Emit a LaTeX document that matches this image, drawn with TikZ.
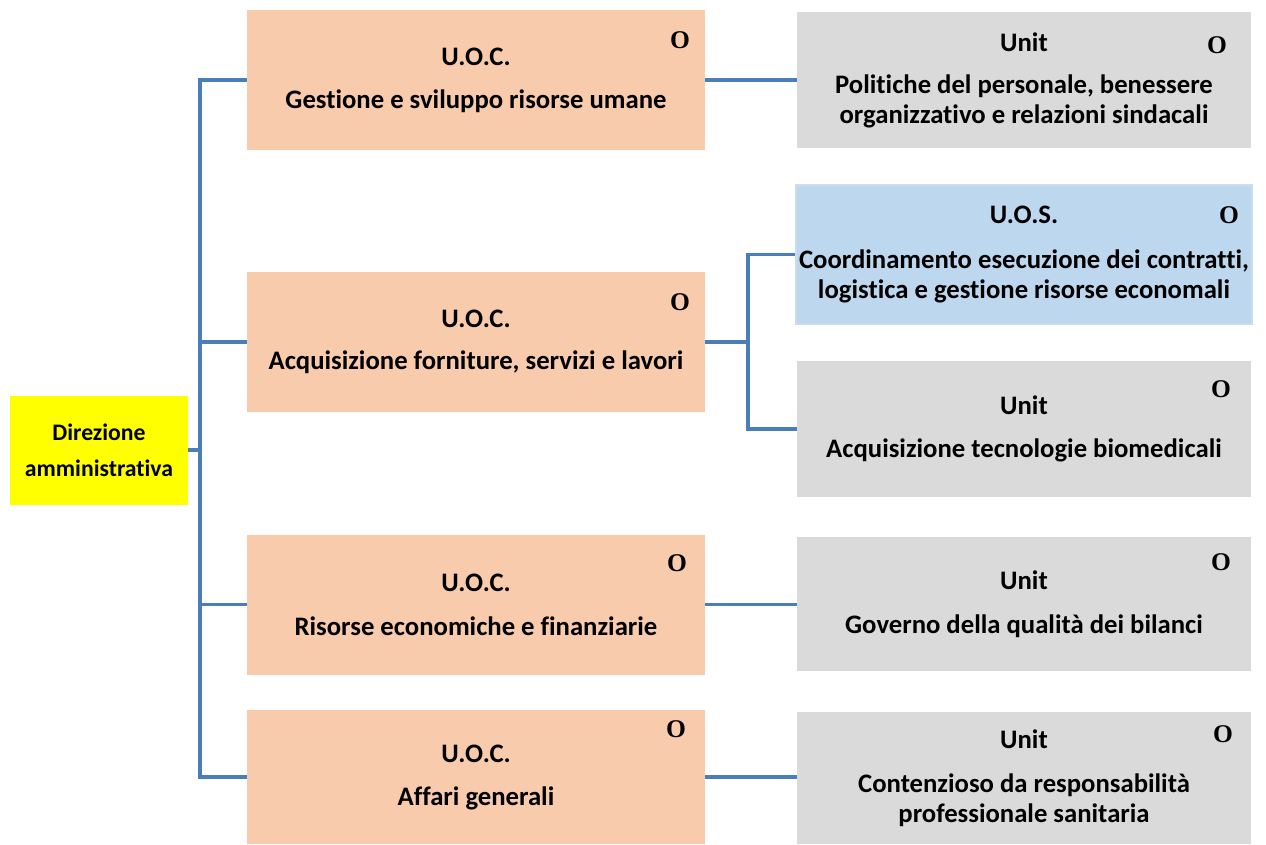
\documentclass[tikz,border=0pt]{standalone}
\usepackage{fontspec}
\setmainfont{Carlito}[Ligatures={NoCommon}]
\newfontfamily\markfont{Liberation Serif}
\definecolor{peach}{RGB}{248,203,173}
\definecolor{headyellow}{RGB}{255,255,0}
\definecolor{unitgrey}{RGB}{218,218,218}
\definecolor{uosblue}{RGB}{189,215,238}
\definecolor{uosedge}{RGB}{205,220,236}
\definecolor{linkblue}{RGB}{74,126,187}
\begin{document}
\begin{tikzpicture}[x=1pt,y=-1pt,
  box/.style={rectangle,inner sep=0pt,align=center,
    font=\fontsize{26.7}{30}\selectfont\bfseries,text=black},
  dirbox/.style={box,fill=headyellow,minimum width=178pt,minimum height=109pt,
    font=\fontsize{23.7}{36}\selectfont\bfseries},
  uocbox/.style={box,fill=peach,minimum width=458pt,minimum height=140pt},
  unitbox/.style={box,fill=unitgrey,minimum width=454pt,minimum height=136pt},
  uosbox/.style={box,fill=uosblue,draw=uosedge,line width=2pt,minimum width=456pt,minimum height=139pt},
  omark/.style={font=\fontsize{25.5}{25.5}\selectfont\markfont\bfseries,inner sep=0pt},
  conn/.style={draw=linkblue,line width=3.2pt}]
\useasboundingbox (0,0) rectangle (1266,844);

% head of the administrative direction
\node[dirbox] (dir) at (99,450) {Direzione\\amministrativa};

% complex operating units
\node[uocbox] (c1) at (476,80) {U.O.C.\\[13pt]Gestione e sviluppo risorse umane};
\node[uocbox] (c2) at (476,342) {U.O.C.\\[12pt]Acquisizione forniture, servizi e lavori};
\node[uocbox] (c3) at (476,604.5) {U.O.C.\\[14pt]Risorse economiche e finanziarie};
\node[uocbox, minimum height=134pt] (c4) at (476,777) {U.O.C.\\[13pt]Affari generali};

% units and the simple operating unit
\node[unitbox] (u1) at (1024,80) {Unit\\[12pt]Politiche del personale, benessere\\organizzativo e relazioni sindacali};
\node[uosbox] (u2) at (1024,254.5) {U.O.S.\\[15pt]Coordinamento esecuzione dei contratti,\\logistica e gestione risorse economali};
\node[unitbox] (u3) at (1024,429) {Unit\\[13pt]Acquisizione tecnologie biomedicali};
\node[unitbox, minimum height=134pt] (u4) at (1024,604) {Unit\\[14pt]Governo della qualità dei bilanci};
\node[unitbox, minimum height=132pt] (u5) at (1024,778) {Unit\\[14pt]Contenzioso da responsabilità\\professionale sanitaria};

% markers
\node[omark] (m1) at (680,40) {O};
\node[omark] (m2) at (680,302) {O};
\node[omark] (m3) at (677,563) {O};
\node[omark] (m4) at (676,729) {O};
\node[omark] (n1) at (1217,45) {O};
\node[omark] (n2) at (1229,215) {O};
\node[omark] (n3) at (1221,389) {O};
\node[omark] (n4) at (1221,562) {O};
\node[omark] (n5) at (1223,734) {O};

% trunk and branches
\coordinate (trunk) at (200,0);
\coordinate (fork) at (748,0);
\draw[conn] (c1.west) -- (c1.west -| trunk) -- (c4.west -| trunk) -- (c4.west);
\draw[conn] (dir.east) -- (dir.east -| trunk);
\draw[conn] (c2.west) -- (c2.west -| trunk);
\draw[conn] (c3.west) -- (c3.west -| trunk);

\draw[conn] (c1.east) -- (c1.east -| u1.west);
\draw[conn] (c2.east) -- (c2.east -| fork);
\draw[conn] (u2.west) -- (u2.west -| fork) -- (u3.west -| fork) -- (u3.west);
\draw[conn] (c3.east) -- (c3.east -| u4.west);
\draw[conn] (c4.east) -- (c4.east -| u5.west);
\end{tikzpicture}
\end{document}
